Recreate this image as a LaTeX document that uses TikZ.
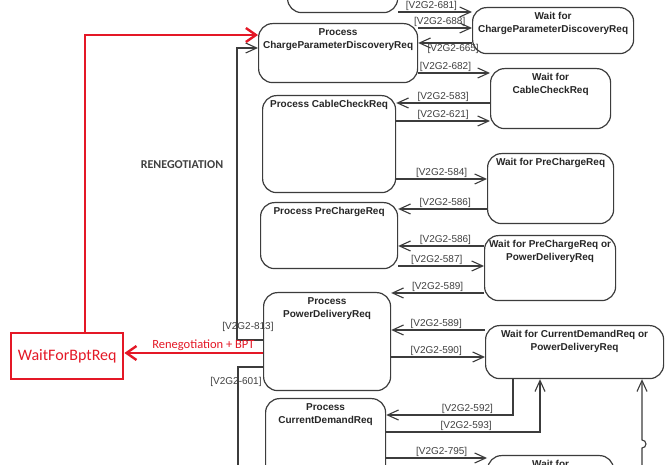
\documentclass[tikz,border=0pt]{standalone}
\usepackage{fontspec}
\setmainfont{Liberation Sans}
\newfontfamily\calibri{Carlito}
\usetikzlibrary{arrows.meta}

\definecolor{edge}{RGB}{60,60,60}
\definecolor{alert}{RGB}{228,24,38}

\tikzset{
  state/.style={draw=edge, line width=1.2pt, rounded corners=14pt, anchor=north west, fill=white},
  head/.style={anchor=north, align=center, inner sep=5.5pt, text=black!85,
    font=\bfseries\fontsize{10}{13}\selectfont},
  flow/.style={draw=edge, line width=1.1pt, -{Straight Barb[length=11pt,width=10pt]}},
  link/.style={draw=edge, line width=1.1pt},
  req/.style={inner sep=0.5pt, text=black!75, font=\fontsize{10}{12}\selectfont},
  bpt/.style={draw=alert, line width=2.4pt, -{Straight Barb[length=10pt,width=14pt]}},
}

\begin{document}
\begin{tikzpicture}[x=1pt,y=-1pt]
  \useasboundingbox[fill=white] (0,0) rectangle (665,465);

  % states of the SECC
  \node[state, minimum width=110, minimum height=52] (ptop) at (287,-40) {};
  \node[state, minimum width=159, minimum height=59,
    label={[head]north:Process\\ChargeParameterDiscoveryReq}] (pcpd) at (258,23) {};
  \node[state, minimum width=161, minimum height=46,
    label={[head]north:Wait for\\ChargeParameterDiscoveryReq}] (wcpd) at (472,7) {};
  \node[state, minimum width=120, minimum height=60,
    label={[head]north:Wait for\\CableCheckReq}] (wcc) at (490,68) {};
  \node[state, minimum width=133, minimum height=97,
    label={[head]north:Process CableCheckReq}] (pcc) at (262,95) {};
  \node[state, minimum width=126, minimum height=70,
    label={[head]north:Wait for PreChargeReq}] (wpc) at (487,153) {};
  \node[state, minimum width=137, minimum height=66,
    label={[head]north:Process PreChargeReq}] (ppc) at (260,202) {};
  \node[state, minimum width=131, minimum height=65,
    label={[head]north:Wait for PreChargeReq or\\PowerDeliveryReq}] (wpcpd) at (484,235) {};
  \node[state, minimum width=127, minimum height=98,
    label={[head]north:Process\\PowerDeliveryReq}] (ppd) at (263,292) {};
  \node[state, minimum width=178, minimum height=53,
    label={[head]north:Wait for CurrentDemandReq or\\PowerDeliveryReq}] (wcdpd) at (485,325) {};
  \node[state, minimum width=120, minimum height=90,
    label={[head]north:Process\\CurrentDemandReq}] (pcdr) at (265,398) {};
  \node[state, minimum width=126, minimum height=60,
    label={[head]north:Wait for}] (wbot) at (487,455) {};

  % BPT waiting state
  \node[draw=alert, line width=2.4pt, fill=white, anchor=north west,
    minimum width=112, minimum height=46, text=alert,
    font=\calibri\fontsize{16}{18}\selectfont] (wfb) at (10,332) {WaitForBptReq};

  % transitions on the right
  \draw[flow] (ptop.east |- 0,12) -- node[req, above, pos=0.45] {[V2G2-681]} (wcpd.west |- 0,12);
  \draw[flow] (pcpd.east |- 0,28) -- node[req, above, pos=0.4] {[V2G2-688]} (wcpd.west |- 0,28);
  \draw[flow] (wcpd.west |- 0,43) -- node[req, below, pos=0.35] {[V2G2-665]} (pcpd.east |- 0,43);
  \draw[flow] (pcpd.east |- 0,73) -- node[req, above, pos=0.38] {[V2G2-682]} (wcc.west |- 0,73);
  \draw[flow] (wcc.west |- 0,103) -- node[req, above] {[V2G2-583]} (pcc.east |- 0,103);
  \draw[flow] (pcc.east |- 0,121) -- node[req, above] {[V2G2-621]} (wcc.west |- 0,121);
  \draw[flow] (pcc.east |- 0,179) -- node[req, above] {[V2G2-584]} (wpc.west |- 0,179);
  \draw[flow] (wpc.west |- 0,209) -- node[req, above, pos=0.47] {[V2G2-586]} (ppc.east |- 0,209);
  \draw[flow] (wpcpd.west |- 0,246) -- node[req, above, pos=0.45] {[V2G2-586]} (ppc.east |- 0,246);
  \draw[flow] (ppc.east |- 0,266) -- node[req, above, pos=0.45] {[V2G2-587]} (wpcpd.west |- 0,266);
  \draw[flow] (wpcpd.west |- 0,293) -- node[req, above] {[V2G2-589]} (ppd.east |- 0,293);
  \draw[flow] (wcdpd.west |- 0,330) -- node[req, above, pos=0.52] {[V2G2-589]} (ppd.east |- 0,330);
  \draw[flow] (ppd.east |- 0,357) -- node[req, above, pos=0.48] {[V2G2-590]} (wcdpd.west |- 0,357);
  \draw[flow] (wcdpd.south -| 513,0) |- node[req, above, pos=0.68] {[V2G2-592]} (pcdr.east |- 0,415);
  \draw[flow] (pcdr.east |- 0,432) -| node[req, above, pos=0.26] {[V2G2-593]} (wcdpd.south -| 540,0);
  \draw[flow] (pcdr.east |- 0,458) -- node[req, above, pos=0.55] {[V2G2-795]} (wbot.west |- 0,458);
  \draw[flow] (642,475) -- (642,448) arc[start angle=-90, end angle=90, radius=4pt]
    -- (wcdpd.south -| 642,0);

  % renegotiation loop on the left
  \draw[flow] (ppd.west |- 0,340) -- (237,340) -- (237,48) -- (pcpd.west |- 0,48);
  \draw[link] (ppd.west |- 0,367) -- (238,367) -- (238,475);
  \node[req] (r813) at (248,327) {[V2G2-813]};
  \node[req] (r601) at (236,382) {[V2G2-601]};
  \node[text=black!75, font=\calibri\bfseries\fontsize{12}{14}\selectfont] (reneg) at (182,165) {RENEGOTIATION};

  % BPT renegotiation
  \draw[bpt] (ppd.west |- 0,353) -- node[above, inner sep=1pt, text=alert, pos=0.43,
    font=\calibri\fontsize{12.5}{14}\selectfont] {Renegotiation + BPT} (wfb.east |- 0,353);
  \draw[bpt] (wfb.north -| 85,0) |- (pcpd.west |- 0,35);
\end{tikzpicture}
\end{document}
